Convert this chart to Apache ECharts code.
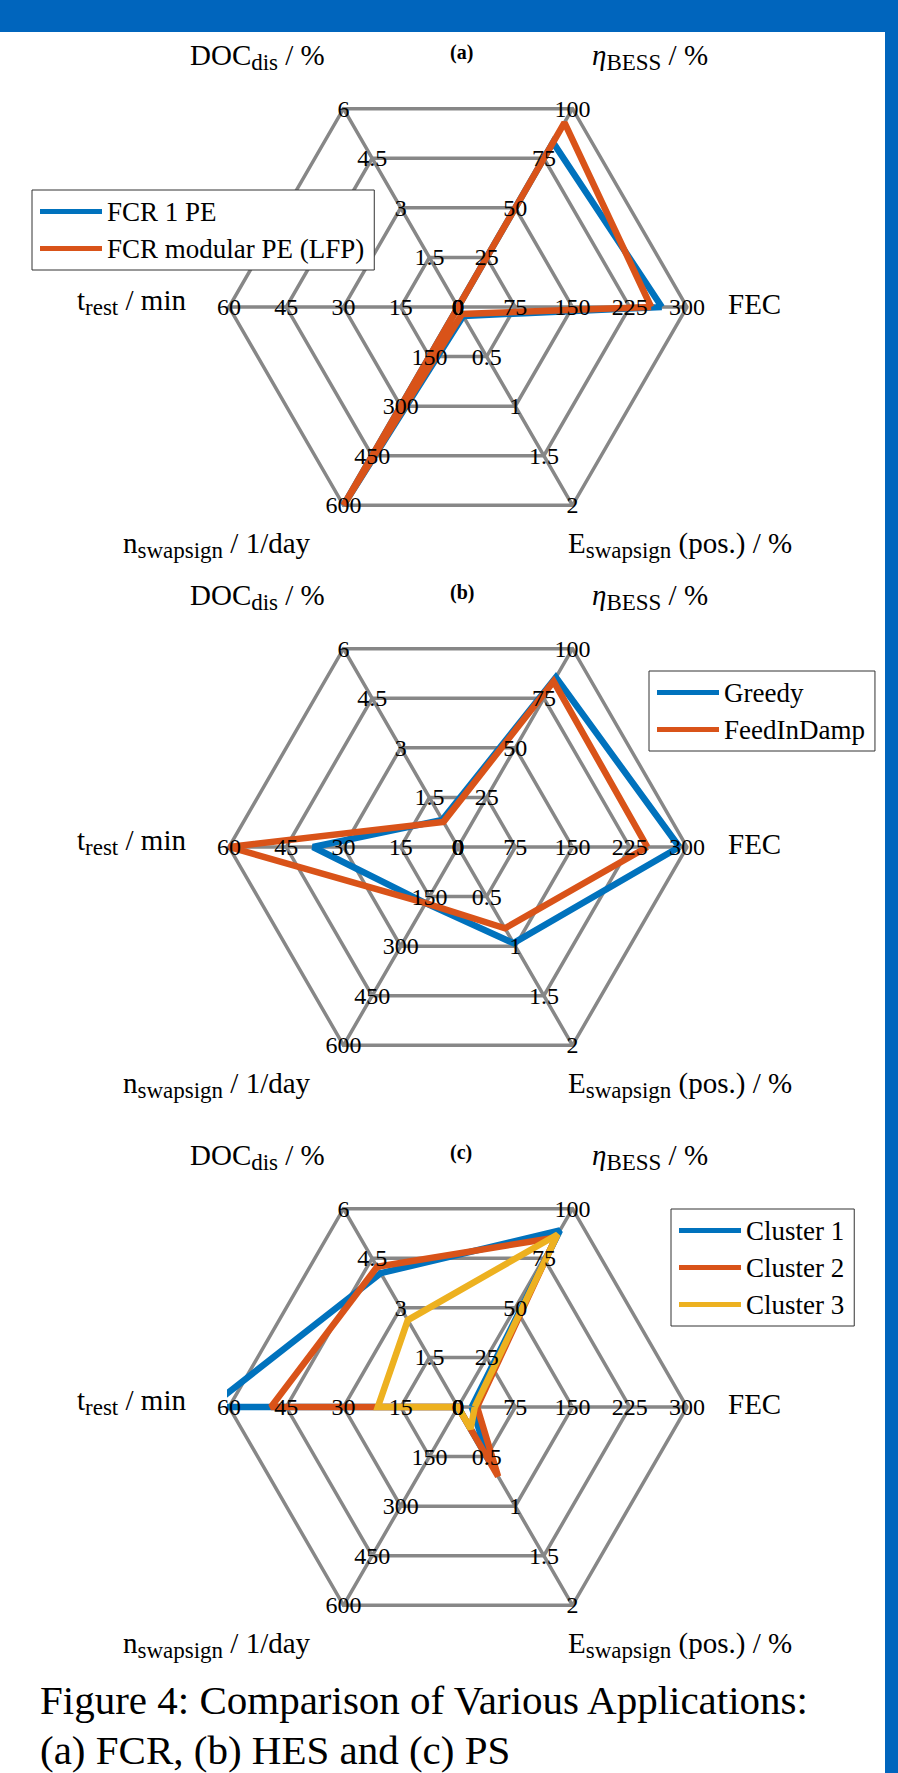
<!DOCTYPE html>
<html>
<head>
<meta charset="utf-8">
<script src="https://cdn.jsdelivr.net/npm/echarts@6/dist/echarts.min.js"></script>
<style>
html, body { margin: 0; padding: 0; background: #fff; }
#chart { width: 898px; height: 1773px; }
</style>
</head>
<body>
<div id="chart"></div>
<script>
// axis order: FEC, eta_BESS, DOC_dis, t_rest, n_swapsign, E_swapsign
const axisKeys = ['FEC', 'eta', 'DOC', 'trest', 'nswap', 'Eswap'];
const axisMax = [300, 100, 6, 60, 600, 2];

// (a) FCR
const fcrNames = ['FCR 1 PE', 'FCR modular PE (LFP)'];
const fcr1PE = [267, 83, 0, 0, 600, 0.09];
const fcrModular = [253, 93, 0, 0, 600, 0.07];

// (b) HES
const hesNames = ['Greedy', 'FeedInDamp'];
const greedy = [290, 85.5, 0.82, 38, 170, 0.97];
const feedInDamp = [248, 83.5, 0.76, 60, 170, 0.82];

// (c) PS
const psNames = ['Cluster 1', 'Cluster 2', 'Cluster 3'];
const cluster1 = [18, 89, 4.05, 65, 0, 0.55];
const cluster2 = [25, 85.5, 4.24, 49, 0, 0.7];
const cluster3 = [22, 87, 2.63, 21, 0, 0.22];

const captionLines = ['Figure 4: Comparison of Various Applications:', '(a) FCR, (b) HES and (c) PS'];

const BLUE = '#0072BD', ORANGE = '#D95319', YELLOW = '#EDB120', GRAY = '#878787';
const SERIF = "'Liberation Serif', 'Times New Roman', serif";
const CX = 458, R = 229;
const centersY = [307, 847, 1407];

const indicator = axisKeys.map((k, i) => ({ name: k, min: 0, max: axisMax[i] }));

function makeRadars(cy) {
    let base = {
        center: [CX, cy],
        radius: R,
        startAngle: 0,
        shape: 'polygon',
        splitNumber: 4,
        indicator: indicator,
        axisName: { show: false },
        axisTick: { show: false },
        splitArea: { show: false }
    };
    let grid = Object.assign({}, base, {
        z: 0,
        axisLine: { lineStyle: { color: GRAY, width: 3.5 } },
        splitLine: { lineStyle: { color: GRAY, width: 3.5 } },
        axisLabel: { show: false }
    });
    let labels = Object.assign({}, base, {
        z: 3,
        axisLine: { show: false },
        splitLine: { show: false },
        axisLabel: {
            show: true,
            margin: 0,
            align: 'center',
            verticalAlign: 'middle',
            fontFamily: SERIF,
            fontSize: 24,
            color: '#000'
        }
    });
    return [grid, labels];
}

function lineItem(name, value, color) {
    return {
        name: name,
        value: value,
        symbol: 'none',
        itemStyle: { color: color },
        lineStyle: { color: color, width: 6.5, join: 'miter', miterLimit: 2 }
    };
}

const rich = {
    m: { fontFamily: SERIF, fontSize: 29, fontWeight: 'normal', color: '#000', lineHeight: 30, verticalAlign: 'top' },
    i: { fontFamily: SERIF, fontSize: 29, fontWeight: 'normal', fontStyle: 'italic', color: '#000', lineHeight: 30, verticalAlign: 'top' },
    s: { fontFamily: SERIF, fontSize: 23, fontWeight: 'normal', color: '#000', lineHeight: 30, padding: [11, 0, 0, 0], verticalAlign: 'top' },
    b: { fontFamily: SERIF, fontSize: 20, fontWeight: 'bold', color: '#000', lineHeight: 30, verticalAlign: 'top' }
};

function nameTitles(cy, tag) {
    let t = (text, left, midY) => ({
        text: text, left: left, top: midY - 15, padding: 0,
        textStyle: { fontWeight: 'normal', rich: rich }
    });
    return [
        t('{m|DOC}{s|dis}{m| / %}', CX - 268, cy - 252),
        t('{b|' + tag + '}', CX - 8, cy - 250),
        t('{i|η}{s|BESS}{m| / %}', CX + 134, cy - 252),
        t('{m|FEC}', CX + 270, cy - 3),
        t('{m|t}{s|rest}{m| / min}', CX - 381, cy - 7),
        t('{m|n}{s|swapsign}{m| / 1/day}', CX - 335, cy + 236),
        t('{m|E}{s|swapsign}{m| (pos.) / %}', CX + 110, cy + 236)
    ];
}

function legendBox(names, left, top) {
    return {
        orient: 'vertical',
        left: left,
        top: top,
        data: names,
        icon: 'rect',
        itemWidth: 62,
        itemHeight: 5,
        itemGap: 10,
        padding: [8, 10, 8, 8],
        backgroundColor: '#fff',
        borderColor: '#333',
        borderWidth: 1,
        selectedMode: false,
        textStyle: { fontFamily: SERIF, fontSize: 27, color: '#000', lineHeight: 26 }
    };
}

let radars = [];
centersY.forEach(cy => { radars = radars.concat(makeRadars(cy)); });

let titles = []
    .concat(nameTitles(centersY[0], '(a)'))
    .concat(nameTitles(centersY[1], '(b)'))
    .concat(nameTitles(centersY[2], '(c)'));
captionLines.forEach((line, i) => {
    titles.push({
        text: line,
        left: 40,
        top: 1682 + i * 50,
        padding: 0,
        textStyle: { fontFamily: SERIF, fontSize: 41, fontWeight: 'normal', color: '#000', lineHeight: 36 }
    });
});

let myChart = echarts.init(document.getElementById('chart'), null, { renderer: 'svg' });
let option = {
    animation: false,
    backgroundColor: '#fff',
    title: titles,
    legend: [
        legendBox(fcrNames, 32, 190),
        legendBox(hesNames, 649, 671),
        legendBox(psNames, 671, 1209)
    ],
    radar: radars,
    series: [
        {
            type: 'radar', radarIndex: 0, silent: true, z: 2,
            data: [lineItem(fcrNames[0], fcr1PE, BLUE), lineItem(fcrNames[1], fcrModular, ORANGE)]
        },
        {
            type: 'radar', radarIndex: 2, silent: true, z: 2,
            data: [lineItem(hesNames[0], greedy, BLUE), lineItem(hesNames[1], feedInDamp, ORANGE)]
        },
        {
            type: 'radar', radarIndex: 4, silent: true, z: 2,
            data: [lineItem(psNames[0], cluster1, BLUE), lineItem(psNames[1], cluster2, ORANGE),
                   lineItem(psNames[2], cluster3, YELLOW)]
        }
    ],
    graphic: [
        // page frame
        { type: 'rect', shape: { x: 0, y: 0, width: 898, height: 32 }, style: { fill: '#0065BD' }, z: 10 },
        { type: 'rect', shape: { x: 885, y: 0, width: 13, height: 1773 }, style: { fill: '#0065BD' }, z: 10 },
        // axes clip: values beyond the outer ring are cut at the left edge of (c)
        { type: 'rect', shape: { x: CX - R - 30, y: centersY[2] - 40, width: 28, height: 70 },
          style: { fill: '#fff' }, z: 2.5 }
    ]
};
myChart.setOption(option);
</script>
</body>
</html>
